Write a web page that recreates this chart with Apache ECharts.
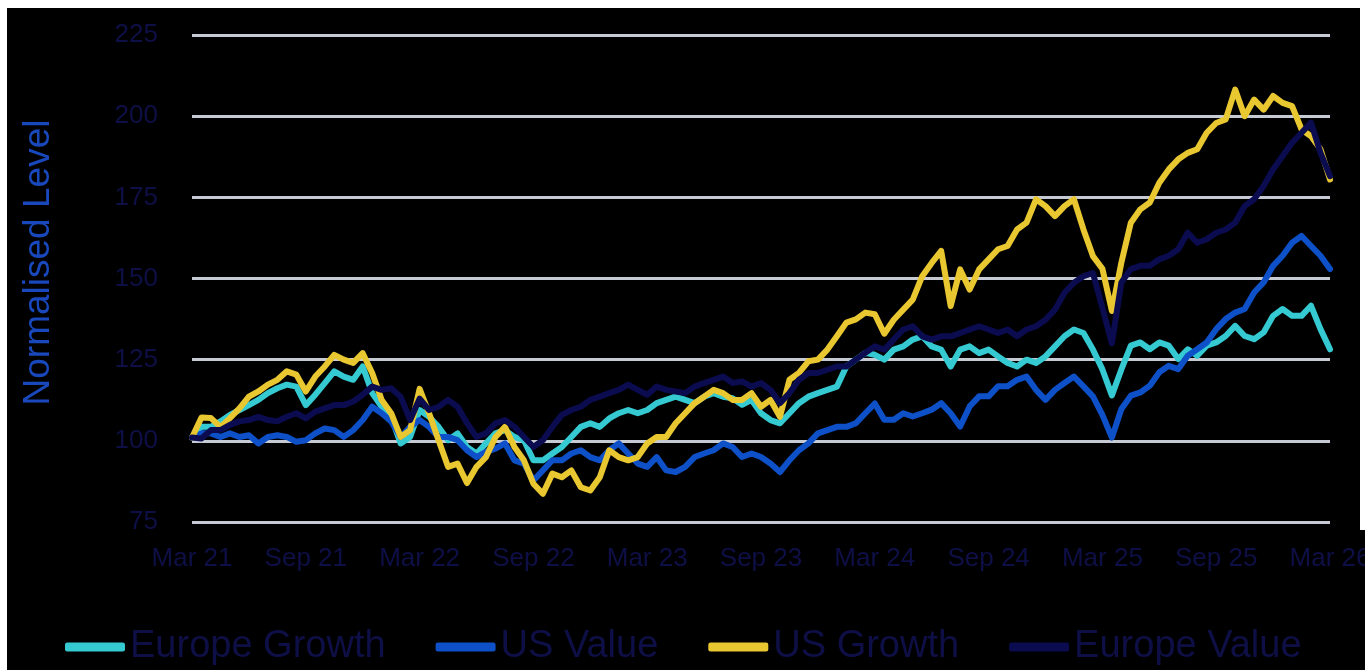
<!DOCTYPE html>
<html>
<head>
<meta charset="utf-8">
<script src="https://cdn.jsdelivr.net/npm/echarts@6/dist/echarts.min.js"></script>
<style>
html,body{margin:0;padding:0;background:#fff;overflow:hidden;}
#chart{position:absolute;left:0;top:0;width:1365px;height:670px;background:#000;}
.wb{position:absolute;background:#fff;z-index:5;}
</style>
</head>
<body>
<div id="chart"></div>
<div class="wb" style="left:0;top:0;width:1365px;height:8px;"></div>
<div class="wb" style="left:0;top:0;width:7px;height:670px;"></div>
<div class="wb" style="left:1360px;top:0;width:5px;height:530px;"></div>
<script>
// Semi-monthly observations, Mar 2021 .. Mar 2026 (121 points)
const xTickLabels = ['Mar 21','Sep 21','Mar 22','Sep 22','Mar 23','Sep 23','Mar 24','Sep 24','Mar 25','Sep 25','Mar 26'];
const seriesNames = ['Europe Growth','US Value','US Growth','Europe Value'];

const europeGrowth = [101,104.3,104.3,106,108,109.5,111,112.6,114.7,116.2,117.3,116.7,111,114.2,117.8,121.4,119.8,118.8,122.9,114.7,
110.5,107.4,99.2,101.2,109.5,107.4,104.3,100.2,102.3,98.1,96.1,99.2,102.3,103.3,101.2,100.2,94,94,96.1,98.1,
101.2,104.3,105.4,104.3,106.9,108.5,109.5,108.5,109.5,111.6,112.6,113.6,112.6,111.6,113.6,114.7,113.6,113.1,111.1,112.6,
108.5,106.4,105.4,108.5,111.6,113.6,114.7,115.7,116.7,122.9,125,127.1,126.5,125,128.1,129.1,131.2,132.2,129.1,128.1,
122.9,128.1,129.1,127,128.1,126,124,122.9,125,124,126,129.1,132.2,134.3,133.2,128.1,122,114,122,129.3,
130.3,128.2,130.3,129.3,125.2,128.2,126.2,129.3,130.3,132.3,135.4,132.3,131.3,133.4,138.5,140.6,138.5,138.5,141.6,134.4,128.2];

const usValue = [101,102.3,102.3,101.2,102.3,101.2,101.7,99.2,101.2,101.7,101.2,99.7,100.2,102.3,103.8,103.3,101.2,103.3,106.4,110.5,
108.5,106,101.2,104.3,106.4,104.3,101.2,101.2,100.2,97.1,95,96.6,97.6,99.2,94,93,87.8,90.9,94,94,
96.1,97.1,95,94,97.1,99.2,96.1,93,92,95,90.9,90.4,92,95,96.1,97.1,99.2,98.1,95,96.1,
95,93,90.4,94,97.1,99.2,102.3,103.3,104.3,104.3,105.4,108.5,111.5,106.5,106.5,108.5,107.5,108.5,109.6,111.6,
108.5,104.4,110.6,113.7,113.7,116.8,116.8,118.8,119.8,115.7,112.6,115.7,117.8,119.8,116.8,113.7,108,101,109.8,113.9,
114.9,117,121.1,123.1,122.1,126.2,128.2,130.3,134.4,137.5,139.5,140.6,145.7,148.8,153.9,157,161,163.1,160,157,152.9];

const usGrowth = [101,107.2,107,104.3,107,110,113.6,115.2,117.3,118.8,121.4,120.4,115.2,119.8,122.9,126.5,125,124,127,120.9,
112.6,108.5,101.2,103.3,116,108.5,100.2,92,93,87,92,95,101.2,104.3,98.1,94,86.8,83.7,89.9,88.8,
90.9,85.7,84.7,88.8,97.1,95,94,95,99.2,101.2,101.2,105.4,108.5,111.6,113.6,115.7,114.7,112.6,112.6,114.7,
110.5,112.6,107.4,118.8,120.9,124.5,125,128.1,132.2,136.4,137.4,139.5,139,133,137.3,140.4,143.5,150.7,154.8,158.5,
141.5,152.8,146.6,152.8,155.9,159,160,165.1,167.2,174.4,172.3,169.2,172.3,174.4,165.1,156.9,153,140,154.9,167.2,
171.3,173.4,179.5,183.6,186.7,188.7,189.8,194.9,197.9,199,208.2,200,205.1,202,206.2,204.1,203.1,195.9,193.8,189.8,180.5];

const europeValue = [101,100.7,103.3,103.3,104.9,106,106.4,107.4,106.4,106,107.4,108.5,106.9,109,110,111,111,112.1,114.2,116.7,
115.7,116.2,113.6,106.4,113,109.5,110.5,112.6,110.5,105.4,101.2,102.3,105.4,106.4,104.3,101.2,98.1,100.2,104.3,108,
109.5,110.5,112.6,113.6,114.7,115.7,117.3,115.7,114.2,116.7,115.7,115.2,114.7,116.7,117.8,118.8,119.8,117.8,118.3,116.7,
117.8,115.7,111.6,114.7,118.8,120.9,120.9,121.9,122.9,122.9,125,127.1,129.1,128.1,131.2,134.3,135.3,132.2,131.2,132.2,
132.2,133.2,134.3,135.3,134.3,133.2,134.3,132.2,134.3,135.3,137.3,140.4,145.6,148.7,150.7,151.7,141,130,148.8,152.9,
153.9,153.9,155.9,157,159,164.1,161,162.1,164.1,165.1,167.2,172.3,174.4,178.5,183.6,187.7,191.8,194.9,198,188.7,181.5];

const seriesColors = ['#35c9d1','#0d50c8','#e9c730','#0b0b50'];

// category labels (half-month periods)
const monthNames = ['Jan','Feb','Mar','Apr','May','Jun','Jul','Aug','Sep','Oct','Nov','Dec'];
const categories = [];
for (let i = 0; i < europeGrowth.length; i++) {
  const m = 2 + Math.floor(i / 2);
  const y = 2021 + Math.floor(m / 12);
  categories.push(monthNames[m % 12] + ' ' + y + (i % 2 ? ' H2' : ' H1'));
}

const FONT = '"Liberation Sans", Arial, sans-serif';
const labelColor = '#0f0f47';

const chart = echarts.init(document.getElementById('chart'), null, {renderer: 'canvas'});
const dataSets = [europeGrowth, usValue, usGrowth, europeValue];

chart.setOption({
  backgroundColor: '#000',
  animation: false,
  grid: {left: 192, right: 35, top: 35, bottom: 148, containLabel: false, outerBoundsMode: 'none'},
  legend: {
    data: seriesNames,
    left: 65,
    top: 628,
    padding: 0,
    icon: 'roundRect',
    itemWidth: 60,
    itemHeight: 9,
    itemGap: 50,
    textStyle: {fontSize: 38, color: '#0f0f47', fontFamily: FONT}
  },
  xAxis: {
    type: 'category',
    data: categories,
    boundaryGap: false,
    axisLine: {show: false},
    axisTick: {show: false},
    splitLine: {show: false},
    axisLabel: {
      interval: function (idx) { return idx % 12 === 0; },
      formatter: function (v, idx) { return xTickLabels[Math.round(idx / 12)]; },
      color: labelColor,
      fontSize: 26,
      fontFamily: FONT,
      margin: 24
    }
  },
  yAxis: {
    type: 'value',
    min: 75,
    max: 225,
    interval: 25,
    name: 'Normalised Level',
    nameLocation: 'middle',
    nameGap: 135,
    nameTextStyle: {fontSize: 37, color: '#1848bb', fontFamily: FONT, padding: [0, 0, 0, 32]},
    axisLine: {show: false},
    axisTick: {show: false},
    axisLabel: {color: labelColor, fontSize: 26, fontFamily: FONT, margin: 34},
    splitLine: {lineStyle: {color: '#c6cad2', width: 3}}
  },
  series: seriesNames.map(function (name, k) {
    return {
      name: name,
      type: 'line',
      data: dataSets[k],
      showSymbol: false,
      symbol: 'none',
      color: seriesColors[k],
      lineStyle: {width: 6, color: seriesColors[k], cap: 'round', join: 'round'},
      z: 2 + k
    };
  })
});
</script>
</body>
</html>
